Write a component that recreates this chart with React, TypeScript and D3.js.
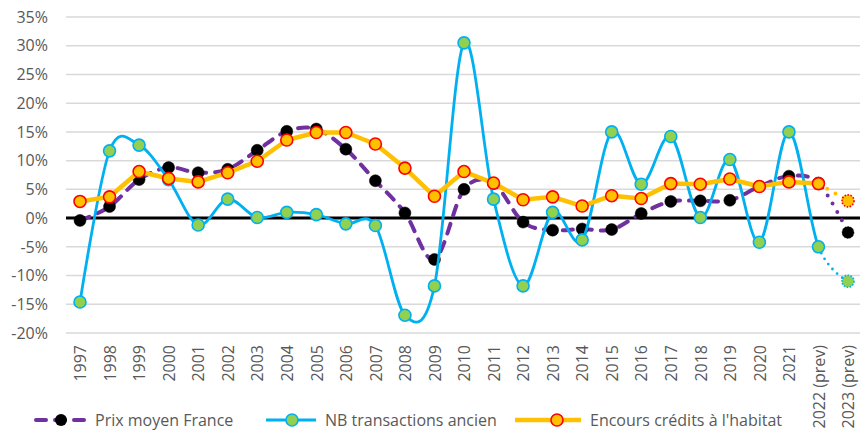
import React from 'react';
import * as d3 from 'd3';

const years = ['1997','1998','1999','2000','2001','2002','2003','2004','2005','2006','2007','2008','2009','2010','2011','2012','2013','2014','2015','2016','2017','2018','2019','2020','2021','2022 (prev)','2023 (prev)'];
const prixMoyen = [-0.4, 2.0, 6.7, 8.8, 7.9, 8.5, 11.8, 15.1, 15.5, 12.0, 6.5, 0.9, -7.2, 5.0, 6.0, -0.7, -2.1, -1.9, -2.0, 0.8, 2.9, 3.0, 3.1, 5.5, 7.3, 6.1, -2.5];
const nbTransactions = [-14.6, 11.7, 12.7, 6.7, -1.2, 3.3, 0.1, 1.0, 0.6, -1.0, -1.3, -16.9, -11.8, 30.5, 3.3, -11.8, 1.0, -3.8, 15.0, 5.9, 14.2, 0.1, 10.2, -4.2, 15.0, -5.0, -11.0];
const encours = [2.9, 3.7, 8.1, 6.9, 6.3, 7.9, 9.9, 13.6, 14.9, 14.9, 12.9, 8.7, 3.8, 8.1, 6.1, 3.2, 3.7, 2.1, 3.9, 3.4, 6.0, 5.9, 6.8, 5.5, 6.3, 6.0, 3.0];
const yTicks = [35, 30, 25, 20, 15, 10, 5, 0, -5, -10, -15, -20];
const legendLabels = ['Prix moyen France', 'NB transactions ancien', "Encours crédits à l'habitat"];

const W = 860, H = 432;
const FONT = '"Open Sans", sans-serif';
const TXT = '#595959';
const FS = 16;

export default function App() {
  const x = d3.scalePoint<string>().domain(years).range([80, 848]);
  const y = d3.scaleLinear().domain([-20, 35]).range([333, 17]);
  const gridX0 = 66, gridX1 = 860;
  const xSplit = x(years[years.length - 2])!;
  const lastIdx = years.length - 1;

  const smooth = d3.line<number>()
    .x((_, i) => x(years[i])!)
    .y(d => y(d))
    .curve(d3.curveCardinal.tension(0));
  const straight = d3.line<number>()
    .x((_, i) => x(years[i])!)
    .y(d => y(d));

  const prixPath = smooth(prixMoyen)!;
  const nbPath = smooth(nbTransactions)!;
  const encPath = straight(encours)!;

  const marker = (cx: number, cy: number, fill: string, stroke: string | null, last: boolean, key: string) => (
    <circle key={key} cx={cx} cy={cy} r={6}
      fill={fill}
      stroke={stroke ?? fill}
      strokeWidth={stroke ? 1.6 : 0.5}
      strokeDasharray={last ? '1.6 1.4' : undefined} />
  );

  return (
    <svg width={W} height={H} style={{ position: 'absolute', left: 0, top: 0, background: '#fff' }}>
      <defs>
        <clipPath id="solidClip"><rect x={0} y={0} width={xSplit} height={H} /></clipPath>
        <clipPath id="dotClip"><rect x={xSplit} y={0} width={W - xSplit} height={H} /></clipPath>
      </defs>

      {/* gridlines */}
      {yTicks.map(t => (
        <line key={'g' + t} x1={gridX0} x2={gridX1} y1={y(t)} y2={y(t)}
          stroke={t === 0 ? '#000' : '#d9d9d9'} strokeWidth={t === 0 ? 3 : 1.5} />
      ))}
      {/* y labels */}
      {yTicks.map(t => (
        <text key={'yl' + t} x={48} y={y(t)} dy="0.36em" textAnchor="end"
          fontFamily={FONT} fontSize={FS} fill={TXT}>{t}%</text>
      ))}
      {/* x labels */}
      {years.map(yr => (
        <text key={'xl' + yr} transform={`translate(${x(yr)! + 0.5},345) rotate(-90)`}
          textAnchor="end" dy="0.36em" fontFamily={FONT} fontSize={FS} fill={TXT}>{yr}</text>
      ))}

      {/* Prix moyen France */}
      <path d={prixPath} fill="none" stroke="#7030a0" strokeWidth={4} strokeDasharray="10 9"
        strokeLinecap="round" clipPath="url(#solidClip)" />
      <path d={prixPath} fill="none" stroke="#7030a0" strokeWidth={4} strokeDasharray="0 9.5"
        strokeLinecap="round" clipPath="url(#dotClip)" />
      {prixMoyen.map((v, i) => marker(x(years[i])!, y(v), '#000', null, i === lastIdx, 'pm' + i))}

      {/* NB transactions ancien */}
      <path d={nbPath} fill="none" stroke="#00b0f0" strokeWidth={2.8}
        clipPath="url(#solidClip)" />
      <path d={nbPath} fill="none" stroke="#00b0f0" strokeWidth={2.8} strokeDasharray="0 6.5"
        strokeLinecap="round" clipPath="url(#dotClip)" />
      {nbTransactions.map((v, i) => marker(x(years[i])!, y(v), '#92d050', '#00b0f0', i === lastIdx, 'nb' + i))}

      {/* Encours crédits */}
      <path d={encPath} fill="none" stroke="#ffc000" strokeWidth={4.5} strokeLinejoin="round"
        clipPath="url(#solidClip)" />
      <path d={encPath} fill="none" stroke="#ffc000" strokeWidth={4} strokeDasharray="0 9.5"
        strokeLinecap="round" clipPath="url(#dotClip)" />
      {encours.map((v, i) => marker(x(years[i])!, y(v), '#ffc000', '#ff0000', i === lastIdx, 'en' + i))}

      {/* legend */}
      <g>
        <line x1={36} x2={84} y1={420} y2={420} stroke="#7030a0" strokeWidth={4} strokeDasharray="10 9" strokeLinecap="round" />
        <circle cx={61} cy={420} r={6} fill="#000" />
        <text x={95} y={420} dy="0.36em" fontFamily={FONT} fontSize={FS} fill={TXT}>{legendLabels[0]}</text>

        <line x1={266} x2={316} y1={420} y2={420} stroke="#00b0f0" strokeWidth={2.8} />
        <circle cx={292} cy={420} r={6} fill="#92d050" stroke="#00b0f0" strokeWidth={1.6} />
        <text x={325} y={420} dy="0.36em" fontFamily={FONT} fontSize={FS} fill={TXT}>{legendLabels[1]}</text>

        <line x1={515} x2={581} y1={420} y2={420} stroke="#ffc000" strokeWidth={4.5} />
        <circle cx={557} cy={420} r={6} fill="#ffc000" stroke="#ff0000" strokeWidth={1.6} />
        <text x={590} y={420} dy="0.36em" fontFamily={FONT} fontSize={FS} fill={TXT}>{legendLabels[2]}</text>
      </g>
    </svg>
  );
}
